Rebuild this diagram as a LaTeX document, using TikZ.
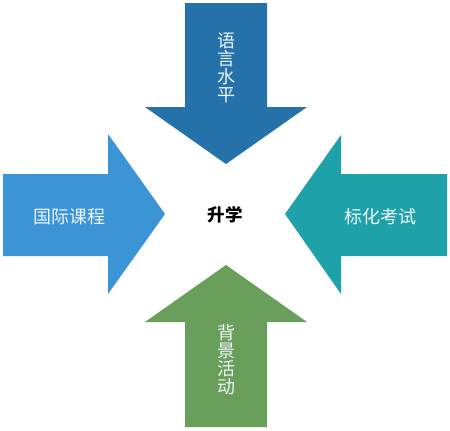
\documentclass[tikz,border=0pt]{standalone}
\usepackage{fontspec}
\newfontfamily\cjk{Noto Sans CJK SC}
\definecolor{cTop}{HTML}{2572AA}
\definecolor{cLeft}{HTML}{3A94D6}
\definecolor{cRight}{HTML}{1FA1A9}
\definecolor{cBot}{HTML}{6A9E5B}
\definecolor{cTxt}{HTML}{EEF6FB}
\tikzset{
  lbl/.style={font=\cjk\fontsize{18}{18}\selectfont, text=cTxt, inner sep=0pt, align=center},
}
\begin{document}
\begin{tikzpicture}[x=1pt,y=-1pt]
\useasboundingbox (0,0) rectangle (450,431);
% top arrow
\fill[cTop] (185,3) -- (267,3) -- (267,107) -- (307,107) -- (226,164) -- (145,107) -- (185,107) -- cycle;
% left arrow
\fill[cLeft] (3,174) -- (108,174) -- (108,134) -- (165,214) -- (108,294) -- (108,256) -- (3,256) -- cycle;
% right arrow
\fill[cRight] (447,174) -- (341,174) -- (341,135) -- (285,214) -- (341,294) -- (341,256) -- (447,256) -- cycle;
% bottom arrow
\fill[cBot] (185,427) -- (267,427) -- (267,322) -- (307,322) -- (226,265) -- (145,322) -- (185,322) -- cycle;
\node[lbl] (top) at (226,68) {语\\言\\水\\平};
\node[lbl] (left) at (69,217) {国际课程};
\node[lbl] (right) at (380,217) {标化考试};
\node[lbl] (bot) at (226,360) {背\\景\\活\\动};
\node[font=\cjk\bfseries\fontsize{17.5}{18}\selectfont, inner sep=0pt] (center) at (225,215) {升学};
\end{tikzpicture}
\end{document}
